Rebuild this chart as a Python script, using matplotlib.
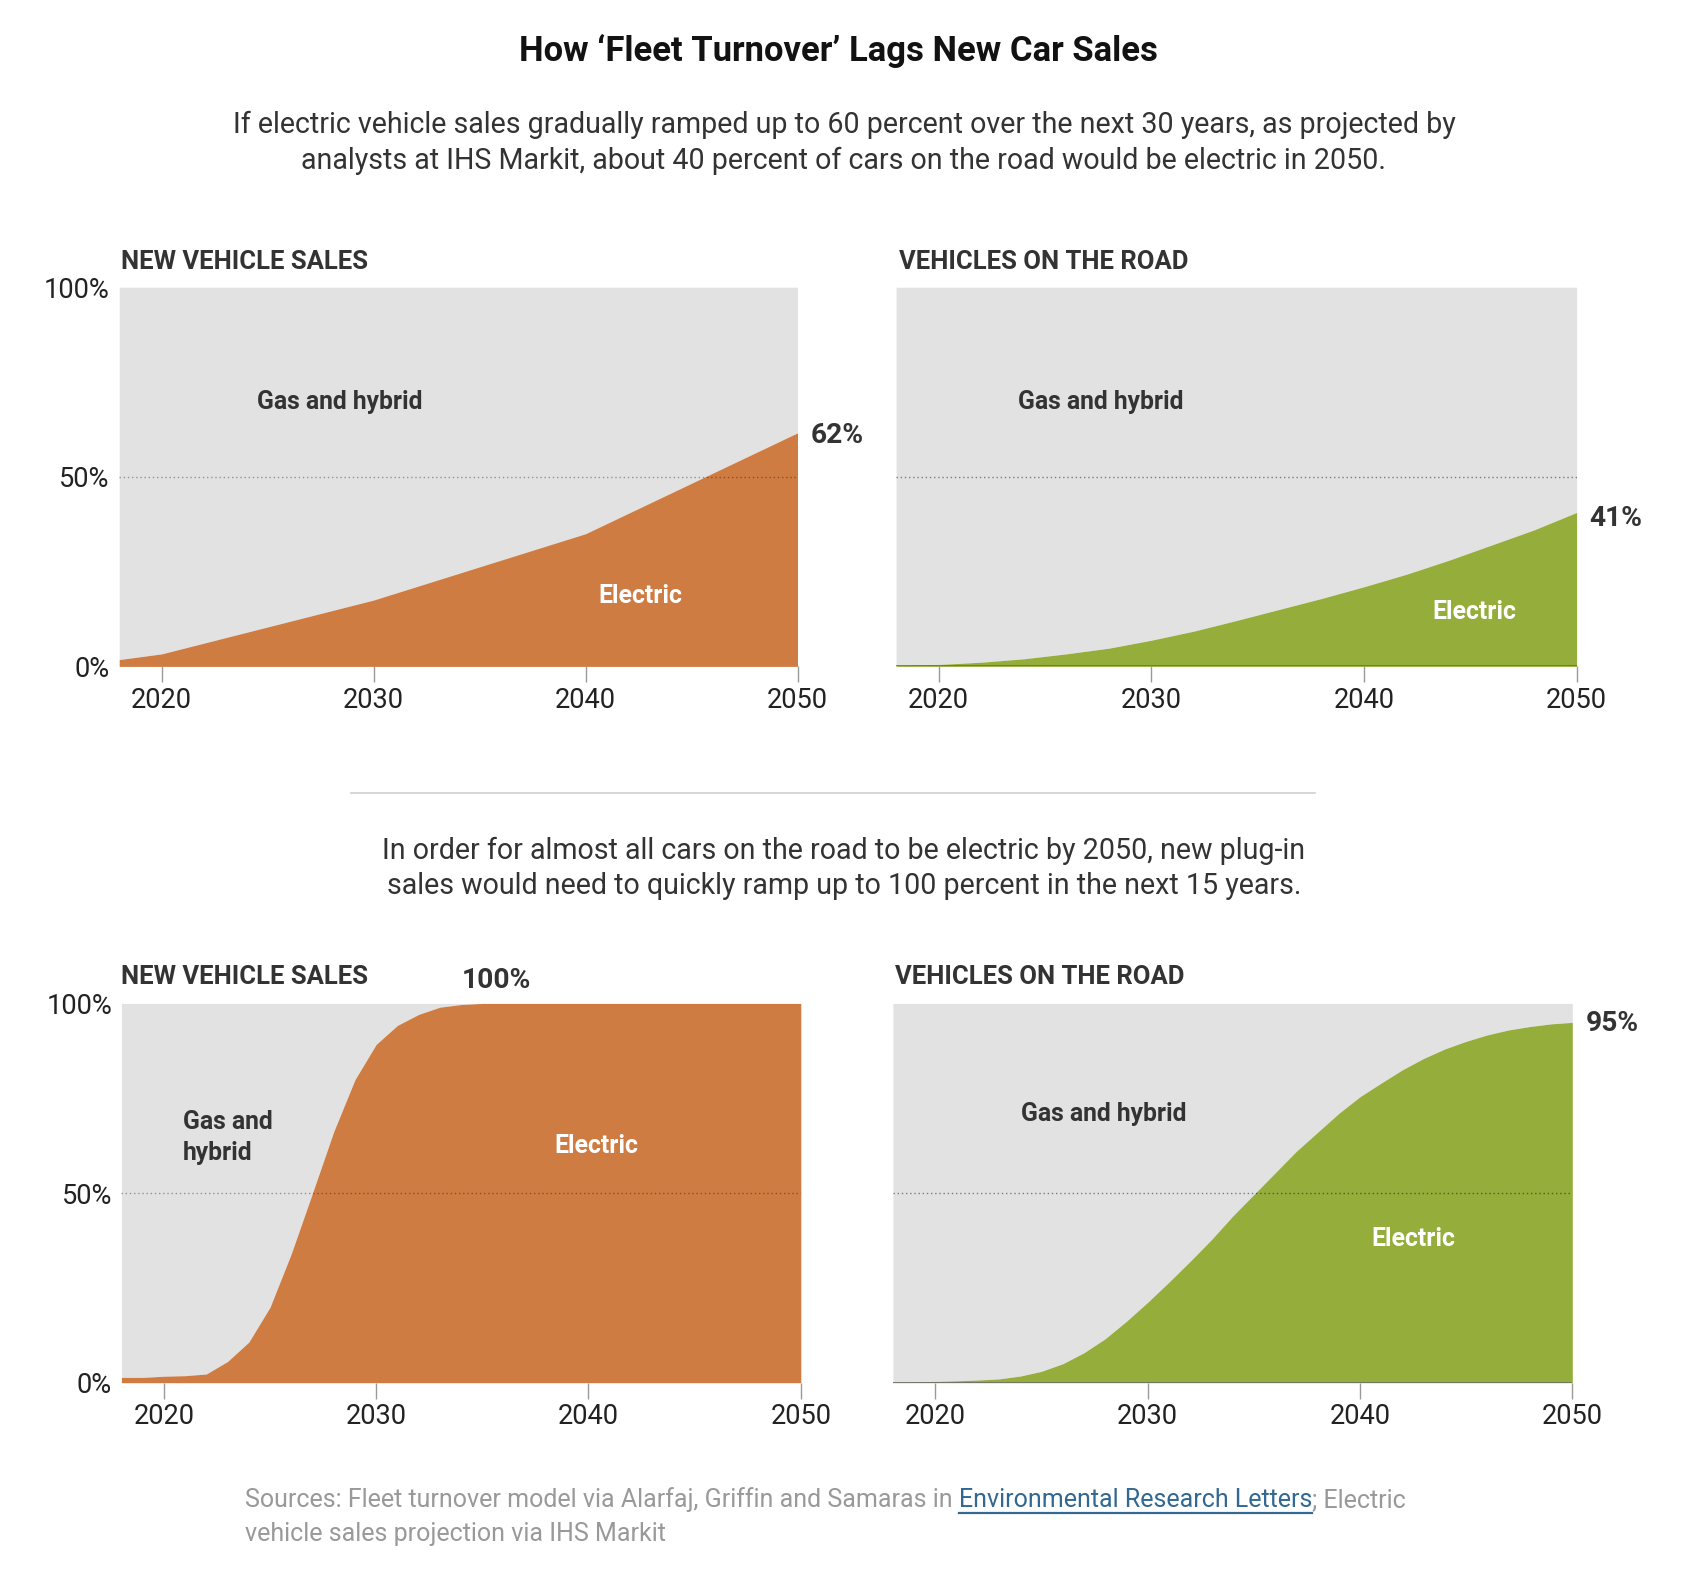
import matplotlib
matplotlib.use("Agg")
import matplotlib.pyplot as plt
from matplotlib.lines import Line2D

# ---------------- data ----------------
sales_slow_years = [2018, 2020, 2030, 2040, 2050]
sales_slow = [1.8, 3.3, 17.5, 35.0, 61.6]

road_slow_years = [2018, 2020, 2022, 2024, 2026, 2028, 2030, 2032, 2034,
                   2036, 2038, 2040, 2042, 2044, 2046, 2048, 2050]
road_slow = [0.26, 0.5, 1.1, 2.0, 3.3, 4.8, 6.9, 9.3, 12.1,
             15.0, 17.9, 21.0, 24.3, 28.0, 32.0, 36.0, 40.6]

fast_years = [2018, 2019, 2020, 2021, 2022, 2023, 2024, 2025, 2026, 2027,
              2028, 2029, 2030, 2031, 2032, 2033, 2034, 2035, 2036, 2037,
              2038, 2039, 2040, 2041, 2042, 2043, 2044, 2045, 2046, 2047,
              2048, 2049, 2050]
sales_fast = [1.4, 1.4, 1.7, 1.85, 2.3, 5.6, 10.7, 19.9, 34.0, 50.0,
              66.2, 79.9, 89.2, 94.2, 97.1, 99.0, 99.7, 100, 100, 100,
              100, 100, 100, 100, 100, 100, 100, 100, 100, 100,
              100, 100, 100]
road_fast = [0.2, 0.25, 0.35, 0.5, 0.7, 1.0, 1.75, 3.0, 5.0, 7.9,
             11.6, 16.2, 21.2, 26.5, 32.0, 37.7, 43.9, 49.6, 55.3, 61.0,
             66.0, 71.0, 75.4, 79.0, 82.5, 85.5, 88.0, 90.0, 91.7, 93.0,
             93.9, 94.6, 95.0]

x_ticks = [2020, 2030, 2040, 2050]
y_ticks = [0, 50, 100]
y_ticklabels = ["0%", "50%", "100%"]

title = "How \u2018Fleet Turnover\u2019 Lags New Car Sales"
subtitle1 = ["If electric vehicle sales gradually ramped up to 60 percent over the next 30 years, as projected by",
             "analysts at IHS Markit, about 40 percent of cars on the road would be electric in 2050."]
subtitle2 = ["In order for almost all cars on the road to be electric by 2050, new plug-in",
             "sales would need to quickly ramp up to 100 percent in the next 15 years."]

# ---------------- style ----------------
ORANGE = "#CF7C43"
GREEN = "#95AD3B"
GRAY = "#E2E2E2"
DARK = "#333333"
FONT = ["Roboto", "DejaVu Sans"]

plt.rcParams["font.family"] = FONT

W, H = 1699, 1576
fig = plt.figure(figsize=(W / 100, H / 100), dpi=100)
renderer = fig.canvas.get_renderer()


def fx(x):
    return x / W


def fy(y):
    return 1 - y / H


def fit_size(text, target_w, weight="normal", base=20):
    t = fig.text(0, 0, text, fontsize=base, fontweight=weight)
    w = t.get_window_extent(renderer).width
    t.remove()
    return base * target_w / w


TITLE_FS = fit_size(title, 637, "bold")
SUB_FS = fit_size(subtitle1[0], 1220)
HEAD_FS = fit_size("NEW VEHICLE SALES", 246, "bold")
LAB_FS = fit_size("Gas and hybrid", 166, "bold")
PCT_FS = fit_size("62%", 53, "bold")
TICK_FS = fit_size("2020", 61)
SRC_FS = fit_size("Sources: Fleet turnover model via Alarfaj, Griffin and Samaras in "
                  "Environmental Research Letters; Electric", 1157)


def make_ax(left, top, right, bottom):
    ax = fig.add_axes([fx(left), fy(bottom), fx(right - left), (bottom - top) / H])
    ax.set_xlim(2018, 2050)
    ax.set_ylim(0, 100)
    for s in ax.spines.values():
        s.set_visible(False)
    ax.set_xticks(x_ticks)
    ax.set_xticklabels([str(v) for v in x_ticks])
    ax.tick_params(axis="x", length=11.5, width=1, color="#9a9a9a", pad=3,
                   labelsize=TICK_FS, labelcolor="#222222")
    return ax


def draw_area(ax, years, vals, color, road=False):
    ax.fill_between(years, vals, 100, color=GRAY, lw=0, zorder=1)
    ax.fill_between(years, 0, vals, color=color, lw=0, zorder=2)
    ax.axhline(50, color="black", alpha=0.45 if road else 0.35, lw=1,
               ls=(0, (1, 2)), zorder=3)
    if road:
        ax.axhline(0, color="#6a6a6a", lw=1.2, zorder=4)


def ylabels(ax, show):
    ax.set_yticks(y_ticks)
    if show:
        ax.set_yticklabels(y_ticklabels)
        ax.tick_params(axis="y", length=0, pad=6.8, labelsize=TICK_FS,
                       labelcolor="#222222")
    else:
        ax.set_yticklabels([])
        ax.tick_params(axis="y", length=0)


def end_label(ax, year, val, txt, dy=0):
    ax.annotate(txt, xy=(year, val), xytext=(9.4, dy), textcoords="offset points",
                ha="left", va="center", fontsize=PCT_FS, fontweight="bold",
                color=DARK, annotation_clip=False)


# ---------------- panels ----------------
ax1 = make_ax(119.2, 287.2, 797.5, 666.4)
draw_area(ax1, sales_slow_years, sales_slow, ORANGE)
ylabels(ax1, True)
ax1.text(2028.4, 69.7, "Gas and hybrid", ha="center", va="center",
         fontsize=LAB_FS, fontweight="bold", color=DARK, zorder=5)
ax1.text(2042.6, 18.6, "Electric", ha="center", va="center",
         fontsize=LAB_FS, fontweight="bold", color="white", zorder=5)
end_label(ax1, sales_slow_years[-1], 61.0, "62%")

ax2 = make_ax(896.1, 287.2, 1576.6, 666.4)
draw_area(ax2, road_slow_years, road_slow, GREEN, road=True)
ylabels(ax2, False)
ax2.text(2027.6, 69.7, "Gas and hybrid", ha="center", va="center",
         fontsize=LAB_FS, fontweight="bold", color=DARK, zorder=5)
ax2.text(2045.2, 14.3, "Electric", ha="center", va="center",
         fontsize=LAB_FS, fontweight="bold", color="white", zorder=5)
end_label(ax2, road_slow_years[-1], 39.1, "41%")

ax3 = make_ax(121.4, 1003.4, 800.8, 1382.7)
draw_area(ax3, fast_years, sales_fast, ORANGE)
ylabels(ax3, True)
ax3.text(2020.9, 64.6, "Gas and\nhybrid", ha="left", va="center",
         fontsize=LAB_FS, fontweight="bold", color=DARK, zorder=5,
         linespacing=1.35)
ax3.text(2040.35, 62.3, "Electric", ha="center", va="center",
         fontsize=LAB_FS, fontweight="bold", color="white", zorder=5)
ax3.text(2035.65, 106, "100%", ha="center", va="center", fontsize=PCT_FS,
         fontweight="bold", color=DARK, clip_on=False)

ax4 = make_ax(892.9, 1003.4, 1572.3, 1382.7)
draw_area(ax4, fast_years, road_fast, GREEN, road=True)
ylabels(ax4, False)
ax4.text(2027.95, 70.9, "Gas and hybrid", ha="center", va="center",
         fontsize=LAB_FS, fontweight="bold", color=DARK, zorder=5)
ax4.text(2042.5, 38.0, "Electric", ha="center", va="center",
         fontsize=LAB_FS, fontweight="bold", color="white", zorder=5)
end_label(ax4, fast_years[-1], 94.6, "95%")

# ---------------- headers & texts ----------------
fig.text(fx(838.7), fy(51), title, ha="center", va="center",
         fontsize=TITLE_FS, fontweight="bold", color="#121212")
for i, line in enumerate(subtitle1):
    fig.text(fx(844), fy(124.6 + 35.8 * i), line, ha="center", va="center",
             fontsize=SUB_FS, color=DARK)
for i, line in enumerate(subtitle2):
    fig.text(fx(844), fy(850.6 + 35.8 * i), line, ha="center", va="center",
             fontsize=SUB_FS, color=DARK)

fig.text(fx(121.4), fy(262.2), "NEW VEHICLE SALES", ha="left", va="center",
         fontsize=HEAD_FS, fontweight="bold", color=DARK)
fig.text(fx(899.4), fy(262.2), "VEHICLES ON THE ROAD", ha="left", va="center",
         fontsize=HEAD_FS, fontweight="bold", color=DARK)
fig.text(fx(121.4), fy(977.4), "NEW VEHICLE SALES", ha="left", va="center",
         fontsize=HEAD_FS, fontweight="bold", color=DARK)
fig.text(fx(895.0), fy(977.4), "VEHICLES ON THE ROAD", ha="left", va="center",
         fontsize=HEAD_FS, fontweight="bold", color=DARK)

# divider
fig.add_artist(Line2D([fx(351), fx(1315.5)], [fy(793.2), fy(793.2)],
                      color="#cfcfcf", lw=1.2))

# sources
SRC_GRAY = "#999999"
LINK = "#326891"
x0 = 244.9
y1, y2 = 1499.7, 1534.4
segs = [("Sources: Fleet turnover model via Alarfaj, Griffin and Samaras in ", SRC_GRAY),
        ("Environmental Research Letters", LINK),
        ("; Electric", SRC_GRAY)]
x = x0
for txt, col in segs:
    t = fig.text(fx(x), fy(y1), txt, ha="left", va="center", fontsize=SRC_FS, color=col)
    bb = t.get_window_extent(renderer)
    if col == LINK:
        fig.add_artist(Line2D([fx(x), fx(x + bb.width)], [fy(y1 + 13), fy(y1 + 13)],
                              color=LINK, lw=1.6))
    x += bb.width
fig.text(fx(x0), fy(y2), "vehicle sales projection via IHS Markit", ha="left",
         va="center", fontsize=SRC_FS, color=SRC_GRAY)

fig.savefig("out.png", dpi=100, facecolor="white")
